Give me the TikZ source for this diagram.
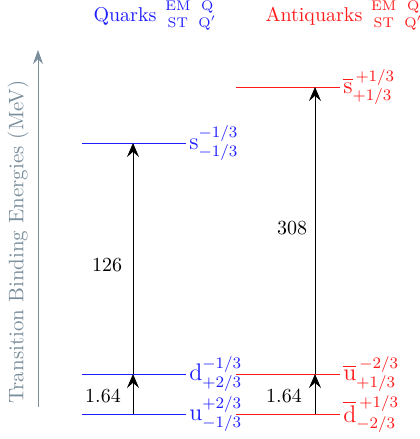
\documentclass[tikz,border=0pt]{standalone}
\usepackage{amsmath}
\usepackage{tikz}
\usetikzlibrary{arrows.meta,positioning}
\definecolor{axegris}{RGB}{122,142,156}
\definecolor{quark}{RGB}{30,30,255}
\definecolor{antiq}{RGB}{255,25,25}
\tikzset{
  saut/.style={-{Stealth[length=7pt,width=6pt,inset=2.6pt]},black,thin},
  etiq/.style={anchor=west,inner sep=1.5pt,font=\large},
  entete/.style={inner sep=0pt},
}
\newcommand{\emst}{\scriptsize\renewcommand{\arraystretch}{0.95}%
  \begin{tabular}{@{}c@{\hspace{4pt}}c@{}}EM&Q\\ST&Q$'$\end{tabular}}

\begin{document}
\begin{tikzpicture}[x=0.5pt,y=-0.5pt]
      \useasboundingbox (0,0) rectangle (419,439);
      % axe des energies
      \coordinate (bas) at (38,407);
      \coordinate (haut) at (38,50);
      \draw[axegris,-{Stealth[length=7pt,width=5pt,inset=2.4pt]}](bas)--(haut);
      \node[axegris,rotate=90,font=\fontsize{10.5}{12}\selectfont] (titre) at (18,242) {Transition Binding Energies (MeV)};
      % quarks
      \node[quark,entete] (hq) at (125,16) {Quarks};
      \node[quark,entete,right=4pt of hq] (hqc) {\emst};
      \draw[quark](82,414)--(186,414) coordinate (u) node[etiq]{$\mathrm{u}^{+2/3}_{-1/3}$};
      \draw[quark](82,374)--(186,374) coordinate (d) node[etiq]{$\mathrm{d}^{-1/3}_{+2/3}$};
      \draw[quark](82,143)--(186,143) coordinate (s) node[etiq]{$\mathrm{s}^{-1/3}_{-1/3}$};
      \coordinate (qu) at (133,414);
      \coordinate (qd) at (133,374);
      \coordinate (qs) at (133,143);
      \draw[saut](qu)--(qd);
      \draw[saut](qd)--(qs);
      \node (eq1) at (103,396) {1.64};
      \node (eq2) at (107,265) {126};
      % antiquarks
      \node[antiq,entete] (ha) at (314,16) {Antiquarks};
      \node[antiq,entete,right=4pt of ha] (hac) {\emst};
      \draw[antiq](236,414)--(340,414) coordinate (db) node[etiq]{$\overline{\mathrm{d}}^{\,+1/3}_{-2/3}$};
      \draw[antiq](236,374)--(340,374) coordinate (ub) node[etiq]{$\overline{\mathrm{u}}^{\,-2/3}_{+1/3}$};
      \draw[antiq](236,87)--(340,87) coordinate (sb) node[etiq]{$\overline{\mathrm{s}}^{\,+1/3}_{+1/3}$};
      \coordinate (ad) at (315,414);
      \coordinate (au) at (315,374);
      \coordinate (as) at (315,87);
      \draw[saut](ad)--(au);
      \draw[saut](au)--(as);
      \node (ea1) at (284,396) {1.64};
      \node (ea2) at (292,228) {308};
\end{tikzpicture}
\end{document}
